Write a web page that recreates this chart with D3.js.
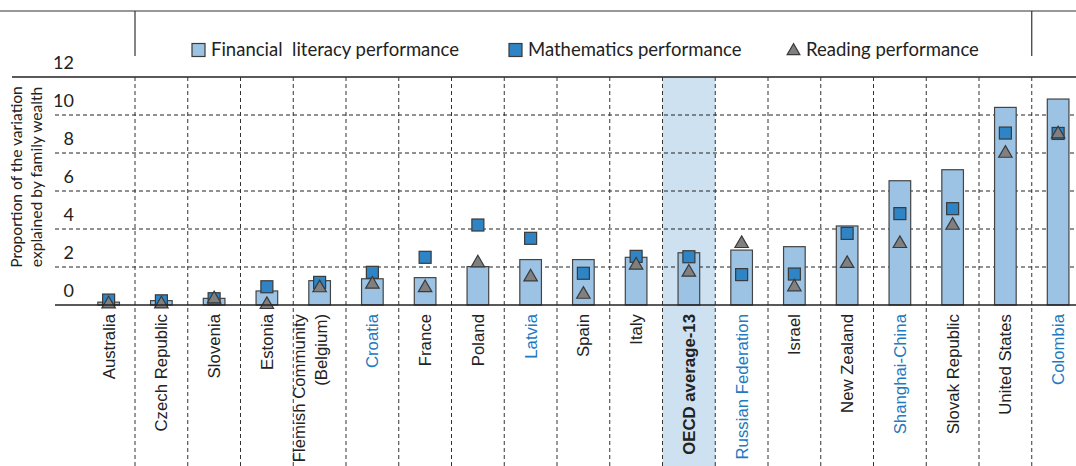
<!DOCTYPE html>
<html>
<head>
<meta charset="utf-8">
<script src="https://cdn.jsdelivr.net/npm/d3@7"></script>
<style>
  html, body { margin: 0; padding: 0; background: #fff; }
  svg { display: block; font-family: Lato, "Noto Sans", sans-serif; }
</style>
</head>
<body>
<svg id="chart" width="1076" height="466"></svg>
<script>
// Share of performance variation explained by family wealth, by country
const countries = [
  "Australia", "Czech Republic", "Slovenia", "Estonia", "Flemish Community (Belgium)",
  "Croatia", "France", "Poland", "Latvia", "Spain", "Italy", "OECD average-13",
  "Russian Federation", "Israel", "New Zealand", "Shanghai-China", "Slovak Republic",
  "United States", "Colombia"
];
const partners = ["Croatia", "Latvia", "Russian Federation", "Shanghai-China", "Colombia"];
const averageLabel = "OECD average-13";

const financialLiteracy = [0.15, 0.23, 0.35, 0.74, 1.28, 1.38, 1.44, 2.02, 2.39, 2.39, 2.51, 2.75,
                           2.89, 3.07, 4.16, 6.54, 7.12, 10.4, 10.84];
const mathematics       = [0.26, 0.22, 0.33, 0.96, 1.19, 1.72, 2.51, 4.21, 3.51, 1.67, 2.56, 2.54,
                           1.6, 1.63, 3.77, 4.81, 5.07, 9.05, 9.03];
const reading           = [0.05, 0.05, 0.32, 0.02, 0.9, 1.09, 0.91, 2.21, 1.47, 0.56, 2.09, 1.72,
                           3.23, 0.95, 2.18, 3.23, 4.19, 7.98, 9.0];
const yTicks = [0, 2, 4, 6, 8, 10, 12];
const legendLabels = ["Financial\u00a0 literacy performance", "Mathematics performance", "Reading performance"];

const svg = d3.select("#chart");
const W = 1076, H = 466;

const x = d3.scaleBand().domain(countries).range([82.25, 82.25 + 52.75 * 19]).padding(0);
const y = d3.scaleLinear().domain([0, 12]).range([305, 77]);
const bw = x.bandwidth();
const barW = bw * 0.41;

const colBar = "#9cc3e3", colSq = "#2e84c4", colTri = "#808080", colEdge = "#3a3a3a";
const colShade = "#cde1f0", colPartner = "#2179bf", colText = "#222";

// Frame above the plot
svg.append("line").attr("x1", 0).attr("x2", W).attr("y1", 11).attr("y2", 11)
  .attr("stroke", "#333").attr("stroke-width", 1.2);
[x.range()[0] + bw, x.range()[0] + bw * 18].forEach(px => {
  svg.append("line").attr("x1", px).attr("x2", px).attr("y1", 11).attr("y2", 56)
    .attr("stroke", "#333").attr("stroke-width", 1.2);
});

// Highlight column for the OECD average
svg.append("rect")
  .attr("x", x(averageLabel)).attr("y", y(12))
  .attr("width", bw).attr("height", H - y(12))
  .attr("fill", colShade);

// Horizontal grid
const grid = svg.append("g");
yTicks.forEach(t => {
  if (t === 0) return;
  grid.append("line")
    .attr("x1", t === 12 ? 12 : 55).attr("x2", W)
    .attr("y1", y(t)).attr("y2", y(t))
    .attr("stroke", "#222")
    .attr("stroke-width", t === 12 ? 1.3 : 1)
    .attr("stroke-dasharray", t === 12 ? null : "4,3");
});
// Vertical separators between columns
countries.slice(1).forEach(c => {
  grid.append("line")
    .attr("x1", x(c)).attr("x2", x(c))
    .attr("y1", y(12)).attr("y2", H)
    .attr("stroke", "#333").attr("stroke-width", 1)
    .attr("stroke-dasharray", "4,3");
});

// Financial literacy bars
svg.append("g").selectAll("rect").data(countries).join("rect")
  .attr("x", (d) => x(d) + (bw - barW) / 2)
  .attr("y", (d, i) => y(financialLiteracy[i]))
  .attr("width", barW)
  .attr("height", (d, i) => y(0) - y(financialLiteracy[i]))
  .attr("fill", colBar).attr("stroke", "#444").attr("stroke-width", 1.2);

// Mathematics squares
const sq = 12;
svg.append("g").selectAll("rect").data(countries).join("rect")
  .attr("x", d => x(d) + bw / 2 - sq / 2)
  .attr("y", (d, i) => y(mathematics[i]) - sq / 2)
  .attr("width", sq).attr("height", sq)
  .attr("fill", colSq).attr("stroke", colEdge).attr("stroke-width", 1.2);

// Reading triangles
const tri = d3.symbol().type(d3.symbolTriangle).size(78);
svg.append("g").selectAll("path").data(countries).join("path")
  .attr("d", tri)
  .attr("transform", (d, i) => `translate(${x(d) + bw / 2},${y(reading[i])})`)
  .attr("fill", colTri).attr("stroke", colEdge).attr("stroke-width", 1.2);

// Baseline
svg.append("line").attr("x1", 55).attr("x2", W).attr("y1", y(0)).attr("y2", y(0))
  .attr("stroke", "#222").attr("stroke-width", 1.4);

// Y axis labels sit just above their gridlines
const yAxis = svg.append("g").attr("transform", "translate(74,0)")
  .call(d3.axisLeft(y).tickValues(yTicks).tickSize(0).tickPadding(0));
yAxis.select(".domain").remove();
yAxis.selectAll("text").attr("dy", "-0.45em")
  .attr("font-size", 18).attr("fill", colText).attr("font-family", "Lato, sans-serif");

// Y axis title
const yTitle = svg.append("text")
  .attr("transform", `translate(22,${177}) rotate(-90)`)
  .attr("text-anchor", "middle").attr("font-size", 15.6).attr("fill", colText);
yTitle.append("tspan").attr("x", 0).attr("dy", 0).text("Proportion of the variation");
yTitle.append("tspan").attr("x", 0).attr("dy", "1.25em").text("explained by family wealth");

// Category labels, rotated
const xAxis = svg.append("g").attr("transform", `translate(0,${y(0)})`)
  .call(d3.axisBottom(x).tickSize(0).tickFormat(""));
xAxis.select(".domain").remove();
xAxis.selectAll(".tick").each(function(d) {
  const g = d3.select(this);
  const color = partners.includes(d) ? colPartner : colText;
  const weight = d === averageLabel ? "bold" : "normal";
  const lines = d === "Flemish Community (Belgium)" ? ["Flemish Community", "(Belgium)"] : [d];
  const offsets = lines.length === 2 ? [-21, 1] : [0];
  lines.forEach((ln, k) => {
    g.append("text")
      .attr("transform", `translate(${offsets[k]},9) rotate(-90)`)
      .attr("text-anchor", "end")
      .attr("dy", "0.35em")
      .attr("font-size", 16.8)
      .attr("font-weight", weight)
      .attr("fill", color)
      .text(ln);
  });
});

// Legend
const legend = svg.append("g").attr("font-size", 18.5).attr("fill", colText);
const legendX = [192, 509, 787];
legendLabels.forEach((lab, i) => {
  const g = legend.append("g").attr("transform", `translate(${legendX[i]},50)`);
  if (i < 2) {
    g.append("rect").attr("x", 0).attr("y", -6.5).attr("width", 13).attr("height", 13)
      .attr("fill", i === 0 ? colBar : colSq).attr("stroke", colEdge).attr("stroke-width", 1.2);
  } else {
    g.append("path").attr("d", d3.symbol().type(d3.symbolTriangle).size(70))
      .attr("transform", "translate(6.5,1)")
      .attr("fill", colTri).attr("stroke", colEdge).attr("stroke-width", 1.2);
  }
  g.append("text").attr("x", 19).attr("dy", "0.35em").attr("fill", colText).text(lab);
});
</script>
</body>
</html>
